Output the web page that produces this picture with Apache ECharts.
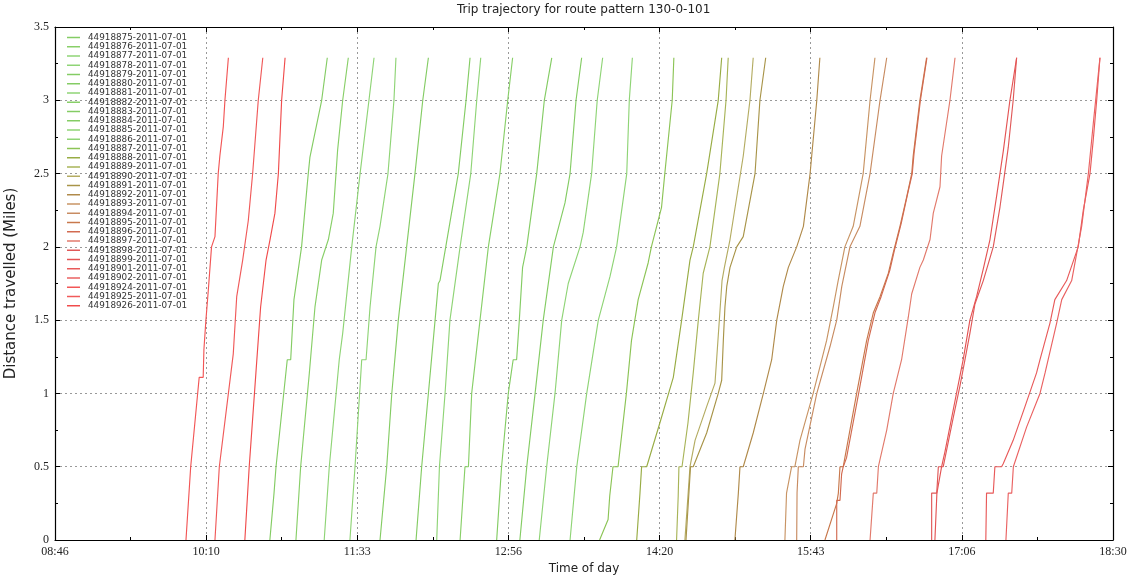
<!DOCTYPE html>
<html><head><meta charset="utf-8">
<script src="https://cdn.jsdelivr.net/npm/echarts@6/dist/echarts.min.js"></script>
<style>html,body{margin:0;padding:0;background:#fff}#c{width:1133px;height:575px}</style>
</head><body><div id="c"></div>
<script>
// Time axis (minutes of day) and tick labels
const dayStart = 526;   // 08:46
const dayEnd = 1110;    // 18:30
const tickLabels = ['08:46','10:10','11:33','12:56','14:20','15:43','17:06','18:30'];

const tripIds = ['44918875','44918876','44918877','44918878','44918879','44918880','44918881','44918882','44918883','44918884','44918885','44918886','44918887','44918888','44918889','44918890','44918891','44918892','44918893','44918894','44918895','44918896','44918897','44918898','44918899','44918901','44918902','44918924','44918925','44918926'];
const serviceDate = '2011-07-01';

// each trip: [minute of day, miles travelled]
const trip875 = [[644.6,0],[646.9,0.32],[648.0,0.5],[654.2,1.23],[656.1,1.23],[657.9,1.64],[662.1,2.0],[665.8,2.5],[666.7,2.61],[673.2,3.0],[676.3,3.29]];
const trip876 = [[659.0,0],[661.6,0.5],[666.4,1.14],[669.5,1.59],[673.2,1.91],[676.9,2.05],[679.6,2.23],[682.0,2.66],[684.8,3.0],[687.9,3.29]];
const trip877 = [[674.6,0],[677.4,0.5],[682.9,1.23],[684.8,1.41],[689.8,2.0],[694.4,2.5],[699.3,3.0],[702.1,3.29]];
const trip878 = [[688.8,0],[691.6,0.5],[695.3,1.23],[697.7,1.23],[699.9,1.59],[703.2,2.0],[705.4,2.14],[709.8,2.5],[713.1,3.0],[714.2,3.29]];
const trip879 = [[705.4,0],[709.1,0.5],[711.9,1.0],[712.7,1.11],[713.7,1.11],[715.5,1.5],[720.1,2.0],[724.7,2.5],[729.0,3.0],[732.1,3.29]];
const trip880 = [[725.3,0],[728.4,0.5],[732.1,1.0],[735.8,1.5],[737.6,1.75],[738.5,1.77],[748.6,2.5],[752.9,3.0],[755.1,3.29]];
const trip881 = [[736.7,0],[738.2,0.5],[741.3,1.0],[744.0,1.5],[749.6,2.0],[755.5,2.5],[758.8,3.0],[761.0,3.29]];
const trip882 = [[749.6,0],[752.3,0.5],[754.2,0.5],[756.0,1.0],[760.6,1.5],[765.2,2.0],[771.6,2.5],[775.9,3.0],[778.6,3.29]];
const trip883 = [[769.8,0],[772.5,0.5],[776.2,1.0],[778.9,1.23],[780.8,1.23],[782.3,1.5],[784.1,1.86],[786.4,2.0],[791.9,2.5],[796.1,3.0],[800.2,3.29]];
const trip884 = [[782.6,0],[786.4,0.5],[791.0,1.0],[795.5,1.5],[801.1,2.0],[807.5,2.3],[810.3,2.5],[813.6,3.0],[816.7,3.29]];
const trip885 = [[793.3,0],[797.4,0.5],[802.0,1.0],[805.7,1.5],[809.3,1.75],[815.8,2.0],[817.6,2.1],[822.2,2.5],[825.3,3.0],[828.3,3.29]];
const trip886 = [[810.3,0],[814.0,0.5],[819.5,1.0],[825.9,1.5],[832.4,1.8],[836.0,2.0],[841.6,2.5],[843.0,3.0],[844.7,3.29]];
const trip887 = [[826.6,0],[831.3,0.14],[832.2,0.3],[834.0,0.5],[836.8,0.5],[841.4,1.0],[844.2,1.36],[847.9,1.64],[853.4,1.89],[855.2,2.0],[860.8,2.27],[862.6,2.5],[866.7,3.0],[867.6,3.29]];
const trip888 = [[847.1,0],[848.9,0.32],[849.8,0.5],[852.6,0.5],[859.9,0.8],[867.3,1.11],[868.2,1.11],[871.9,1.5],[876.5,1.91],[878.3,2.0],[885.7,2.5],[892.1,3.0],[894.0,3.29]];
const trip889 = [[869.1,0],[870.0,0.3],[870.4,0.5],[872.1,0.5],[875.4,0.8],[878.3,1.14],[881.1,1.5],[883.8,1.82],[887.5,2.0],[890.8,2.3],[893.0,2.5],[896.4,3.0],[897.6,3.29]];
const trip890 = [[873.7,0],[876.5,0.5],[879.3,0.68],[885.7,0.91],[890.3,1.07],[891.2,1.23],[894.2,1.77],[895.5,1.86],[898.6,2.05],[905.9,2.62],[909.6,3.0],[911.4,3.29]];
const trip891 = [[874.3,0],[876.8,0.5],[878.3,0.5],[885.7,0.73],[892.1,1.0],[894.0,1.09],[894.9,1.36],[895.8,1.59],[896.8,1.73],[898.6,1.86],[902.3,2.0],[905.9,2.07],[912.4,2.5],[915.1,3.0],[918.3,3.29]];
const trip892 = [[901.3,0],[903.2,0.32],[904.1,0.5],[905.9,0.5],[911.4,0.73],[917.0,1.0],[921.6,1.23],[924.4,1.5],[928.0,1.73],[930.8,1.86],[935.4,2.0],[939.1,2.14],[942.8,2.5],[946.5,3.0],[948.2,3.29]];
const trip893 = [[928.9,0],[929.8,0.32],[932.6,0.5],[934.4,0.5],[937.2,0.68],[944.5,1.0],[951.9,1.36],[955.6,1.59],[958.3,1.77],[962.0,2.0],[966.6,2.14],[972.1,2.5],[975.9,3.0],[978.6,3.29]];
const trip894 = [[935.4,0],[935.6,0.32],[936.3,0.5],[939.1,0.5],[940.0,0.62],[946.5,1.0],[953.8,1.32],[957.5,1.5],[960.3,1.73],[964.8,2.0],[970.3,2.14],[975.9,2.5],[981.4,3.0],[985.1,3.29]];
const trip895 = [[951.0,0],[957.5,0.25],[958.4,0.32],[959.3,0.5],[961.1,0.5],[968.5,1.0],[974.0,1.36],[977.7,1.55],[981.4,1.66],[986.0,1.82],[988.7,1.96],[992.4,2.14],[996.1,2.34],[998.9,2.5],[999.7,2.62],[1003.4,3.0],[1007.1,3.29]];
const trip896 = [[957.5,0],[957.5,0.27],[959.3,0.27],[960.2,0.45],[961.1,0.5],[962.9,0.56],[969.6,1.0],[974.9,1.36],[978.6,1.55],[982.0,1.66],[986.8,1.84],[989.4,1.98],[993.1,2.16],[996.6,2.36],[999.2,2.5],[1000.2,2.64],[1003.7,3.0],[1007.3,3.29]];
const trip897 = [[975.9,0],[977.7,0.32],[979.6,0.32],[980.5,0.5],[981.4,0.55],[985.1,0.75],[988.7,1.0],[993.3,1.23],[997.0,1.52],[998.9,1.68],[1003.4,1.86],[1005.3,1.91],[1009.0,2.05],[1010.8,2.23],[1014.5,2.41],[1015.4,2.62],[1020.0,3.0],[1022.8,3.29]];
const trip898 = [[1009.9,0],[1009.9,0.32],[1012.7,0.32],[1013.6,0.5],[1016.3,0.5],[1021.9,0.84],[1025.5,1.05],[1028.3,1.23],[1031.0,1.41],[1033.8,1.61],[1038.4,1.77],[1043.9,2.0],[1047.6,2.27],[1049.4,2.43],[1052.2,2.68],[1054.9,3.0],[1056.8,3.29]];
const trip899 = [[1011.7,0],[1012.8,0.32],[1015.4,0.5],[1017.2,0.6],[1022.8,0.95],[1027.3,1.23],[1031.0,1.5],[1034.7,1.66],[1038.4,1.85],[1042.1,2.05],[1045.8,2.35],[1049.4,2.65],[1053.1,3.0],[1056.8,3.29]];
const trip901 = [[1039.8,0],[1040.2,0.32],[1043.9,0.32],[1044.8,0.5],[1048.5,0.5],[1049.4,0.52],[1054.9,0.68],[1061.4,0.91],[1067.8,1.14],[1069.7,1.23],[1075.2,1.48],[1077.9,1.64],[1084.4,1.77],[1090.8,2.0],[1093.6,2.25],[1097.3,2.5],[1099.1,2.73],[1101.0,3.0],[1102.8,3.29]];
const trip902 = [[1050.9,0],[1052.2,0.32],[1054.1,0.32],[1055.0,0.5],[1062.3,0.77],[1069.7,1.0],[1072.5,1.14],[1078.9,1.48],[1081.7,1.64],[1087.2,1.77],[1092.7,2.14],[1096.4,2.5],[1099.1,2.84],[1101.9,3.18],[1102.8,3.29]];
const trip924 = [[598.3,0],[600.9,0.5],[605.6,1.11],[607.8,1.11],[608.2,1.3],[609.3,1.5],[610.6,1.7],[612.4,2.0],[614.3,2.07],[616.1,2.5],[617.0,2.62],[618.9,2.82],[619.8,3.0],[621.7,3.29]];
const trip925 = [[614.3,0],[616.7,0.5],[624.4,1.27],[626.3,1.66],[629.6,1.91],[632.7,2.18],[635.1,2.5],[638.2,3.0],[640.7,3.29]];
const trip926 = [[630.8,0],[633.2,0.5],[636.9,1.14],[639.5,1.59],[642.5,1.91],[644.7,2.05],[647.4,2.23],[649.3,2.5],[651.1,3.0],[653.0,3.29]];

const tripData = [trip875,trip876,trip877,trip878,trip879,trip880,trip881,trip882,trip883,trip884,trip885,trip886,trip887,trip888,trip889,trip890,trip891,trip892,trip893,trip894,trip895,trip896,trip897,trip898,trip899,trip901,trip902,trip924,trip925,trip926];

const tripColors = ['#84cc64','#88cf68','#8fd476','#8fd476','#84cc64','#84cc64','#8fd476','#88cf68','#84cc64','#84cc64','#8fd476','#8fd476','#8cc456','#98ac44','#a8b458','#b4ac62','#a89448','#b08a4a','#c89464','#c88c62','#c8784c','#d26a50','#e27a6c','#e05858','#e45454','#e85a5a','#ea6262','#f25656','#f05a5a','#f04c4c'];

const span = dayEnd - dayStart;
const step = span / 7;
const chart = echarts.init(document.getElementById('c'), null, {renderer: 'canvas'});

const series = tripIds.map((id, i) => ({
  name: id + '-' + serviceDate,
  type: 'line',
  xAxisIndex: 0, yAxisIndex: 0,
  showSymbol: false, symbol: 'none',
  animation: false,
  lineStyle: {color: tripColors[i], width: 1.15},
  itemStyle: {color: tripColors[i]},
  data: tripData[i].map(p => [p[0] - dayStart, p[1]])
}));

const tickFont = {fontFamily: 'Liberation Serif', fontSize: 12, color: '#222'};
const baseX = {
  type: 'value', min: 0, max: span, interval: step,
  axisLine: {show: true, onZero: false, lineStyle: {color: '#000', width: 1.2}},
  axisTick: {show: true, inside: true, length: 5, lineStyle: {color: '#000'}},
  minorTick: {show: true, splitNumber: 2, length: 3, lineStyle: {color: '#000'}},
};
const baseY = {
  type: 'value', min: 0, max: 3.5, interval: 0.5,
  axisLine: {show: true, onZero: false, lineStyle: {color: '#000', width: 1.2}},
  axisTick: {show: true, inside: true, length: 5, lineStyle: {color: '#000'}},
  minorTick: {show: true, splitNumber: 2, length: 3, lineStyle: {color: '#000'}},
};

chart.setOption({
  animation: false,
  backgroundColor: '#fff',
  title: {text: 'Trip trajectory for route pattern 130-0-101', left: 457, top: 4, padding: 0,
    textStyle: {fontFamily: 'DejaVu Sans', fontSize: 12, fontWeight: 'normal', color: '#222'}},
  grid: {left: 55, right: 20, top: 27, bottom: 35, containLabel: false, outerBoundsMode: 'none'},
  legend: {
    orient: 'vertical', left: 67, top: 33, itemWidth: 13, itemHeight: 1.5, itemGap: 0.25,
    icon: 'rect', padding: 0,
    textStyle: {fontFamily: 'DejaVu Sans', fontSize: 8.8, lineHeight: 9, color: '#333', padding: [0,0,0,3]},
    data: series.map(s => s.name)
  },
  xAxis: [
    Object.assign({}, baseX, {position: 'bottom', name: 'Time of day', nameLocation: 'middle', nameGap: 16,
      nameTextStyle: {fontFamily: 'DejaVu Sans', fontSize: 12, color: '#222'},
      axisLabel: Object.assign({show: true, margin: 6, showMinLabel: true, showMaxLabel: true,
        formatter: v => tickLabels[Math.round(v / step)]}, tickFont),
      splitLine: {show: true, lineStyle: {color: '#999', type: [2, 3], width: 1}}}),
    Object.assign({}, baseX, {position: 'top', axisLabel: {show: false}, splitLine: {show: false}})
  ],
  yAxis: [
    Object.assign({}, baseY, {position: 'left', name: 'Distance travelled (Miles)', nameLocation: 'middle', nameGap: 36,
      nameTextStyle: {fontFamily: 'DejaVu Sans', fontSize: 15, color: '#222'},
      axisLabel: Object.assign({show: true, margin: 6}, tickFont),
      splitLine: {show: true, lineStyle: {color: '#999', type: [2, 3], width: 1}}}),
    Object.assign({}, baseY, {position: 'right', axisLabel: {show: false}, splitLine: {show: false}})
  ],
  series: series
});
</script></body></html>
